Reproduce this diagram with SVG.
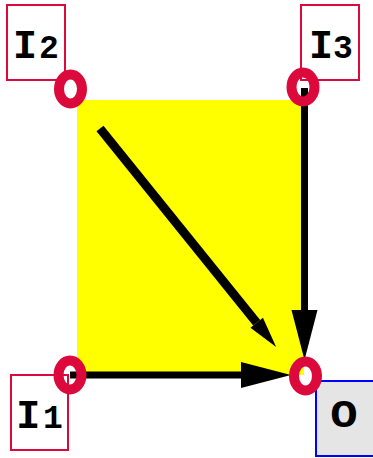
<svg xmlns="http://www.w3.org/2000/svg" width="373" height="458" viewBox="0 0 373 458">
<style>
.lbl{fill:#fff;stroke:#dc0a3c;stroke-width:2}
.out{fill:#e5e5e5;stroke:#0000ff;stroke-width:2}
.txt{font-family:"Liberation Mono","Courier New",monospace;font-weight:bold;fill:#000;text-anchor:middle}
.otxt{font-family:"Liberation Mono","Courier New",monospace;font-weight:bold;fill:#000;text-anchor:middle;font-size:38px}
.port{fill:none;stroke:#dc0a3c;stroke-width:10}
.edge{fill:none;stroke:#000}
</style>
<defs>
<marker id="big" markerUnits="userSpaceOnUse" viewBox="0 -13 50 26" refX="0" refY="0" markerWidth="50" markerHeight="26" orient="auto" overflow="visible">
<path d="M0,-13 L50,0 L0,13 Z" fill="#000"/>
</marker>
<marker id="small" markerUnits="userSpaceOnUse" viewBox="0 -8 31 16" refX="0" refY="0" markerWidth="31" markerHeight="16" orient="auto" overflow="visible">
<path d="M0,-8 L31,0 L0,8 Z" fill="#000"/>
</marker>
</defs>
<rect id="box" x="77" y="100" width="227" height="275" fill="#ffff00"/>
<g id="connectors">
<path class="edge" stroke-width="7" d="M70,375 L241,375" marker-end="url(#big)"/>
<path class="edge" stroke-width="7" d="M304.5,88 L304.5,310" marker-end="url(#big)"/>
<path class="edge" stroke-width="9" d="M100,128.5 L256.7,322.8" marker-end="url(#small)"/>
</g>
<g id="I2">
<rect class="lbl" x="7" y="5" width="58" height="75"/>
<text class="txt" y="58"><tspan x="25" font-size="40">I</tspan><tspan x="49" font-size="33">2</tspan></text>
<ellipse class="port" cx="70.5" cy="89" rx="11.5" ry="14.5"/>
</g>
<g id="I3">
<rect class="lbl" x="301" y="5" width="58" height="75"/>
<text class="txt" y="58"><tspan x="321" font-size="40">I</tspan><tspan x="343" font-size="33">3</tspan></text>
<ellipse class="port" cx="303" cy="87" rx="11.5" ry="14.5"/>
</g>
<g id="I1">
<rect class="lbl" x="11" y="375" width="57" height="75"/>
<text class="txt" y="428"><tspan x="28.3" font-size="40">I</tspan><tspan x="53" font-size="33">1</tspan></text>
<ellipse class="port" cx="70" cy="375" rx="11.5" ry="14.5"/>
</g>
<g id="O">
<rect class="out" x="316" y="381" width="58" height="75"/>
<text class="otxt" transform="translate(344,427) scale(1.2,1)">O</text>
<ellipse class="port" cx="305.5" cy="376" rx="11.5" ry="14.5"/>
</g>
</svg>
